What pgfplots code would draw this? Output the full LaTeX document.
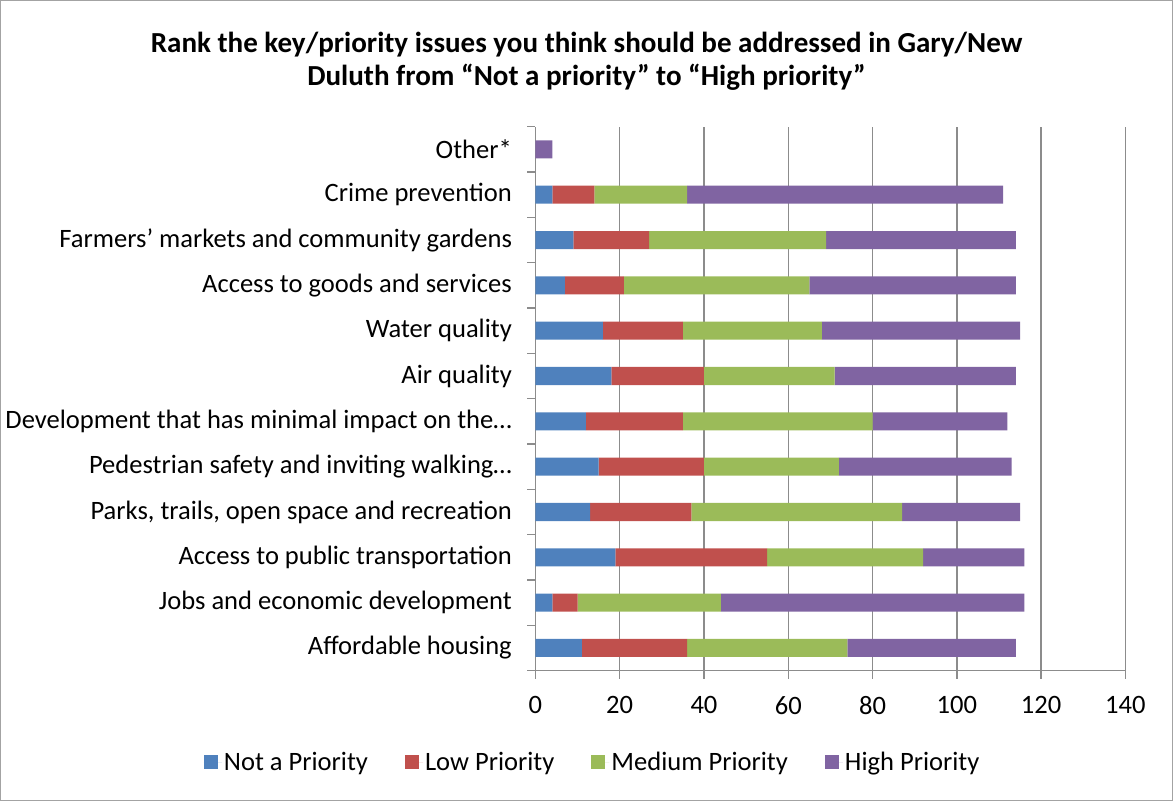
\documentclass[border=0pt]{standalone}
\usepackage{fontspec}
\setmainfont{Carlito}
\usepackage{pgfplots}
\pgfplotsset{compat=1.18}
\definecolor{cA}{HTML}{4F81BD}
\definecolor{cB}{HTML}{C0504D}
\definecolor{cC}{HTML}{9BBB59}
\definecolor{cD}{HTML}{8064A2}
\definecolor{gridc}{HTML}{8C8C8C}
\begin{document}
\begin{tikzpicture}
\draw[gridc!80, line width=1pt] (-534pt,-130pt) rectangle (636pt,669pt);
\node[font=\fontsize{29}{33}\selectfont\bfseries, align=center] at (51pt,608pt)
 {Rank the key/priority issues you think should be addressed in Gary/New\\Duluth from “Not a priority” to “High priority”};
\begin{axis}[
 at={(0pt,0pt)}, anchor=south west,
 xbar stacked, bar width=18pt,
 scale only axis, width=589pt, height=543pt,
 xmin=0, xmax=140, ymin=-0.5, ymax=11.5,
 xtick={0,20,40,60,80,100,120,140},
 ytick={0,...,11},
 yticklabels={Affordable housing, Jobs and economic development, Access to public transportation, {Parks, trails, open space and recreation}, Pedestrian safety and inviting walking…, Development that has minimal impact on the…, Air quality, Water quality, Access to goods and services, Farmers’ markets and community gardens, Crime prevention, Other*},
 minor ytick={-0.5,0.5,...,11.5},
 axis x line*=bottom, axis y line*=left,
 axis line style={-, draw=gridc, line width=1.5pt},
 xmajorgrids, major grid style={draw=gridc, line width=1.5pt},
 tick align=outside, major tick length=8pt, minor tick length=8pt,
 tick style={draw=gridc, line width=1.5pt},
 every major y tick/.append style={draw=none},
 /pgf/number format/assume math mode=true,
 tick label style={font=\fontsize{26.5}{30}\selectfont},
 yticklabel style={xshift=-12pt},
 xticklabel style={yshift=-14pt},
 legend style={at={(0.097,-0.168)}, anchor=center, draw=none, font=\fontsize{26.5}{30}\selectfont, legend columns=4, /tikz/every even column/.append style={column sep=35pt}},
 legend image code/.code={\fill[#1] (0pt,-7pt) rectangle (14pt,7pt); \path (0pt,0pt) -- (18pt,0pt);},
 clip=false,
]
\addplot[fill=cA, draw=none] coordinates {(11,0) (4,1) (19,2) (13,3) (15,4) (12,5) (18,6) (16,7) (7,8) (9,9) (4,10) (0,11)};
\addplot[fill=cB, draw=none] coordinates {(25,0) (6,1) (36,2) (24,3) (25,4) (23,5) (22,6) (19,7) (14,8) (18,9) (10,10) (0,11)};
\addplot[fill=cC, draw=none] coordinates {(38,0) (34,1) (37,2) (50,3) (32,4) (45,5) (31,6) (33,7) (44,8) (42,9) (22,10) (0,11)};
\addplot[fill=cD, draw=none] coordinates {(40,0) (72,1) (24,2) (28,3) (41,4) (32,5) (43,6) (47,7) (49,8) (45,9) (75,10) (4,11)};
\legend{Not a Priority, Low Priority, Medium Priority, High Priority}
\end{axis}
\end{tikzpicture}
\end{document}
